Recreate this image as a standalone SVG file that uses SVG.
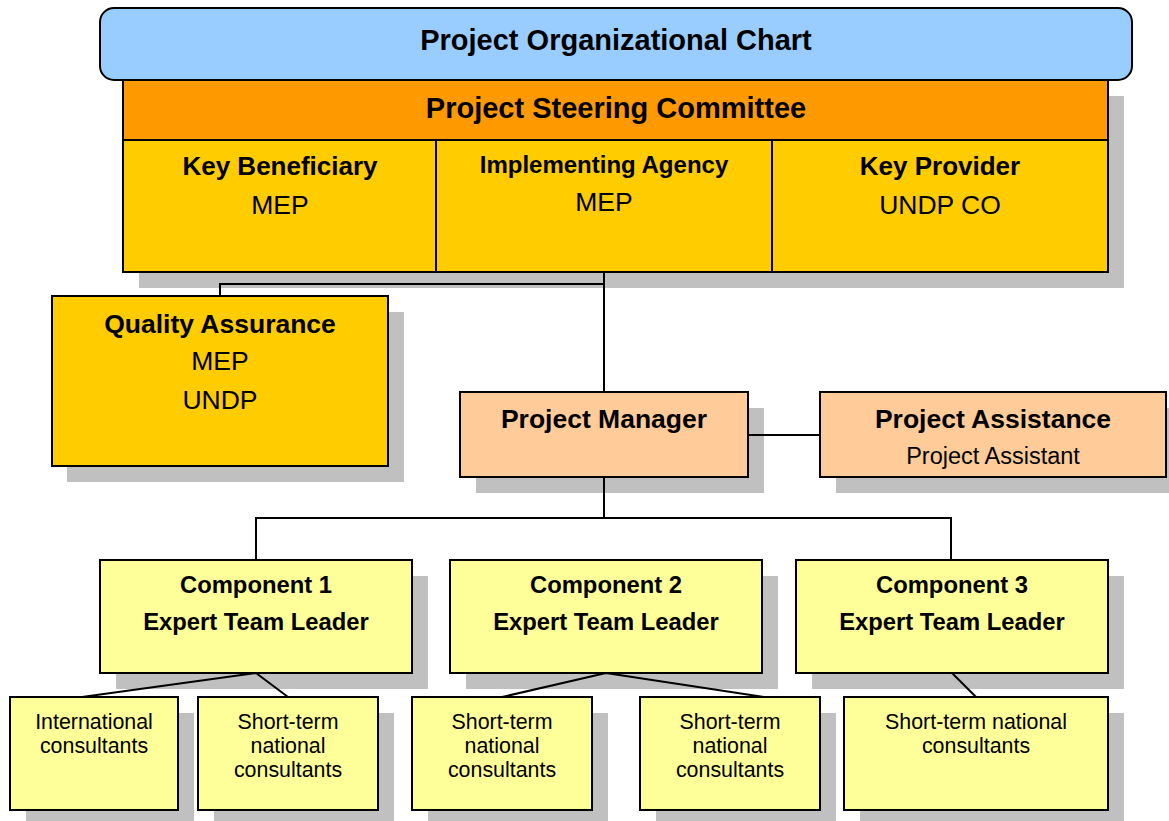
<svg xmlns="http://www.w3.org/2000/svg" width="1169" height="821" viewBox="0 0 1169 821">
<style>
.box{stroke:#000;stroke-width:2}
.sh{fill:#C0C0C0}
.b{font-family:"Liberation Sans",Arial,sans-serif;font-weight:bold;fill:#000;text-anchor:middle}
.r{font-family:"Liberation Sans",Arial,sans-serif;fill:#000;text-anchor:middle}
.ln{stroke:#000;stroke-width:2;fill:none}
</style>
<rect width="1169" height="821" fill="#fff"/>
<g id="steering">
<rect class="sh" x="139" y="96" width="985" height="192"/>
<rect class="box" x="123" y="80" width="985" height="60" fill="#FF9900"/>
<rect class="box" x="123" y="140" width="313" height="132" fill="#FFCC00"/>
<rect class="box" x="436" y="140" width="336" height="132" fill="#FFCC00"/>
<rect class="box" x="772" y="140" width="336" height="132" fill="#FFCC00"/>
<text class="b" x="616" y="118" font-size="29">Project Steering Committee</text>
<text class="b" x="280" y="175" font-size="26">Key Beneficiary</text>
<text class="r" x="280" y="214" font-size="26.5">MEP</text>
<text class="b" x="604" y="173" font-size="24">Implementing Agency</text>
<text class="r" x="604" y="211" font-size="26.5">MEP</text>
<text class="b" x="940" y="175" font-size="26">Key Provider</text>
<text class="r" x="940" y="214" font-size="26.5">UNDP CO</text>
</g>
<g id="title">
<rect class="box" x="100" y="8" width="1032" height="72" rx="14" fill="#99CCFF"/>
<text class="b" x="616" y="50" font-size="29">Project Organizational Chart</text>
</g>
<g id="qa">
<rect class="sh" x="67" y="312" width="337" height="170"/>
<rect class="box" x="52" y="296" width="336" height="170" fill="#FFCC00"/>
<text class="b" x="220" y="333" font-size="26.5">Quality Assurance</text>
<text class="r" x="220" y="370" font-size="26.5">MEP</text>
<text class="r" x="220" y="409" font-size="26.5">UNDP</text>
</g>
<g id="pm">
<rect class="sh" x="476" y="408" width="288" height="85"/>
<rect class="box" x="460" y="392" width="288" height="85" fill="#FFCC99"/>
<text class="b" x="604" y="428" font-size="26.5">Project Manager</text>
</g>
<g id="pa">
<rect class="sh" x="836" y="408" width="333" height="85"/>
<rect class="box" x="820" y="392" width="346" height="85" fill="#FFCC99"/>
<text class="b" x="993" y="428" font-size="26.5">Project Assistance</text>
<text class="r" x="993" y="464" font-size="23.5">Project Assistant</text>
</g>
<g id="c1">
<rect class="sh" x="116" y="576" width="312" height="113"/>
<rect class="box" x="100" y="560" width="312" height="113" fill="#FFFF99"/>
<text class="b" x="256" y="593" font-size="23.8">Component 1</text>
<text class="b" x="256" y="630" font-size="23.8">Expert Team Leader</text>
</g>
<g id="c2">
<rect class="sh" x="466" y="576" width="312" height="113"/>
<rect class="box" x="450" y="560" width="312" height="113" fill="#FFFF99"/>
<text class="b" x="606" y="593" font-size="23.8">Component 2</text>
<text class="b" x="606" y="630" font-size="23.8">Expert Team Leader</text>
</g>
<g id="c3">
<rect class="sh" x="812" y="576" width="312" height="113"/>
<rect class="box" x="796" y="560" width="312" height="113" fill="#FFFF99"/>
<text class="b" x="952" y="593" font-size="23.8">Component 3</text>
<text class="b" x="952" y="630" font-size="23.8">Expert Team Leader</text>
</g>
<g id="intl">
<rect class="sh" x="26" y="713" width="168" height="108"/>
<rect class="box" x="10" y="697" width="168" height="113" fill="#FFFF99"/>
<text class="r" x="94" y="729" font-size="21.4">International</text>
<text class="r" x="94" y="753" font-size="21.4">consultants</text>
</g>
<g id="st1">
<rect class="sh" x="214" y="713" width="180" height="108"/>
<rect class="box" x="198" y="697" width="180" height="113" fill="#FFFF99"/>
<text class="r" x="288" y="729" font-size="21.4">Short-term</text>
<text class="r" x="288" y="753" font-size="21.4">national</text>
<text class="r" x="288" y="777" font-size="21.4">consultants</text>
</g>
<g id="st2">
<rect class="sh" x="428" y="713" width="180" height="108"/>
<rect class="box" x="412" y="697" width="180" height="113" fill="#FFFF99"/>
<text class="r" x="502" y="729" font-size="21.4">Short-term</text>
<text class="r" x="502" y="753" font-size="21.4">national</text>
<text class="r" x="502" y="777" font-size="21.4">consultants</text>
</g>
<g id="st3">
<rect class="sh" x="656" y="713" width="180" height="108"/>
<rect class="box" x="640" y="697" width="180" height="113" fill="#FFFF99"/>
<text class="r" x="730" y="729" font-size="21.4">Short-term</text>
<text class="r" x="730" y="753" font-size="21.4">national</text>
<text class="r" x="730" y="777" font-size="21.4">consultants</text>
</g>
<g id="st4">
<rect class="sh" x="860" y="713" width="264" height="108"/>
<rect class="box" x="844" y="697" width="264" height="113" fill="#FFFF99"/>
<text class="r" x="976" y="729" font-size="21.4">Short-term national</text>
<text class="r" x="976" y="753" font-size="21.4">consultants</text>
</g>
<g id="connectors">
<path class="ln" d="M604 272V392M604 284H220V296"/>
<path class="ln" d="M748 435H820"/>
<path class="ln" d="M604 477V518M256 560V518H951V560"/>
<path class="ln" d="M256 673L82 697M256 673L288 697"/>
<path class="ln" d="M606 673L502 697M606 673L764 697"/>
<path class="ln" d="M952 673L976 697"/>
</g>
</svg>
